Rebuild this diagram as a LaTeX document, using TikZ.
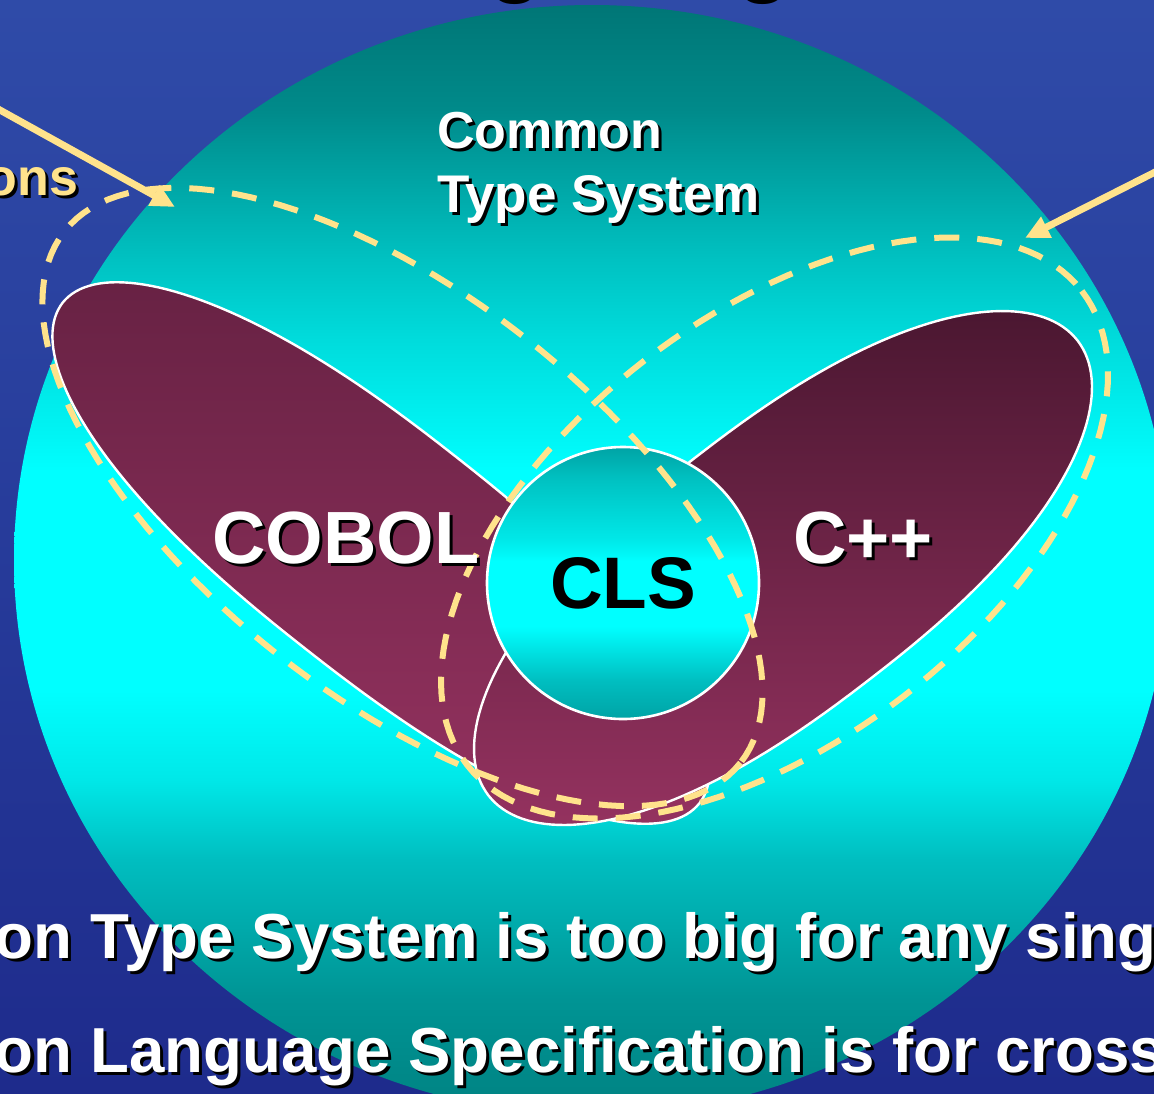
\documentclass[tikz,border=0pt]{standalone}
\usepackage{fontspec}
\setmainfont{Liberation Sans}
\usetikzlibrary{arrows.meta}

% slide background
\definecolor{bgTop}{HTML}{2F4BA8}
\definecolor{bgBot}{HTML}{1E2B8C}
% common type system ball, bottom to top
\definecolor{cts0}{HTML}{008282}
\definecolor{cts1}{HTML}{009494}
\definecolor{cts2}{HTML}{00BEC0}
\definecolor{cts3}{HTML}{00E8E8}
\definecolor{cts4}{HTML}{00FFFF}
\definecolor{cts6}{HTML}{00F6F6}
\definecolor{cts7}{HTML}{00DCDC}
\definecolor{cts8}{HTML}{00C2C2}
\definecolor{cts9}{HTML}{008A8A}
\definecolor{cts10}{HTML}{007676}
% language petals
\definecolor{cobolTop}{HTML}{682244}
\definecolor{cobolBot}{HTML}{94325F}
\definecolor{cppTop}{HTML}{4B1731}
\definecolor{cppBot}{HTML}{94325F}
% CLS ball
\definecolor{clsEdge}{HTML}{00A3A5}
\definecolor{clsMid}{HTML}{00FFFF}
% pale yellow for scopes and pointers
\definecolor{scopeYellow}{HTML}{FFE38C}

\pgfdeclareverticalshading{ctsshading}{100bp}{%
  color(0bp)=(cts0); color(25bp)=(cts0); color(30.2bp)=(cts1);
  color(36.5bp)=(cts2); color(40.1bp)=(cts3); color(44.1bp)=(cts4);
  color(54bp)=(cts4); color(55.4bp)=(cts6); color(59.9bp)=(cts7);
  color(63.5bp)=(cts8); color(70.3bp)=(cts9); color(75bp)=(cts10);
  color(100bp)=(cts10)}

\pgfdeclareverticalshading{clsshading}{100bp}{%
  color(0bp)=(clsEdge); color(25bp)=(clsEdge); color(32bp)=(cts2);
  color(42bp)=(clsMid); color(54bp)=(clsMid); color(58bp)=(cts3);
  color(69bp)=(cts8); color(75bp)=(clsEdge); color(100bp)=(clsEdge)}

\tikzset{
  lbl/.style={inner sep=0pt, outer sep=0pt, anchor=base west},
  txtshadow/.style={text=black, xshift=1.5pt, yshift=-1.5pt},
  petaledge/.style={draw=white, line width=1.2pt},
  scope/.style={draw=scopeYellow, line width=3pt,
    dash pattern=on 12.5pt off 9pt},
  pointer/.style={draw=scopeYellow, line width=3.5pt,
    -{Triangle[length=12pt,width=11pt]}},
  clsball/.style={circle, minimum size=136pt, inner sep=0pt,
    draw=white, line width=1.3pt, shading=clsshading},
}

% a bold label with a black drop shadow
\newcommand\shadowedlabel[5]{%
  \node[lbl, txtshadow, font=\bfseries\fontsize{#3}{#3}\selectfont] (#1-shadow) at #2 {#5};
  \node[lbl, text=#4, font=\bfseries\fontsize{#3}{#3}\selectfont] (#1) at #2 {#5};
}

% closed tilted ellipse: centre x, centre y, half length, half width,
% and the unit direction (ux, uy) of its long axis
\newcommand\tiltedellipse[6]{%
  plot[domain=0:360, samples=145, variable=\t]
    ({#1+#3*cos(\t)*(#5)-#4*sin(\t)*(#6)}, {#2+#3*cos(\t)*(#6)+#4*sin(\t)*(#5)}) -- cycle}

% the same with blunter, rounder ends (a petal)
\newcommand\petaloutline[6]{%
  plot[domain=0:360, samples=181, variable=\t]
    ({#1+#3*cos(\t)*pow(abs(cos(\t))+0.0001,-0.15)*(#5)-#4*sin(\t)*(#6)},
     {#2+#3*cos(\t)*pow(abs(cos(\t))+0.0001,-0.15)*(#6)+#4*sin(\t)*(#5)}) -- cycle}

\begin{document}
\begin{tikzpicture}[x=0.5pt, y=-0.5pt]
\useasboundingbox (0,0) rectangle (1154,1093);
\clip (0,0) rectangle (1154,1093);

% background
\fill[top color=bgTop, bottom color=bgBot] (0,0) rectangle (1154,1093);

% title descenders above the frame
\node[lbl, text=black, font=\bfseries\fontsize{45}{45}\selectfont] (title-g1) at (488,-15) {g};
\node[lbl, text=black, font=\bfseries\fontsize{45}{45}\selectfont] (title-g2) at (736,-15) {g};

% Common Type System
\path[shading=ctsshading] (592,560) ellipse [x radius=578, y radius=555];

% COBOL petal
\path[petaledge, top color=cobolTop, bottom color=cobolBot]
  \petaloutline{381}{553}{405}{122}{0.786}{0.618};

% C++ petal
\path[petaledge, top color=cppTop, bottom color=cppBot]
  \petaloutline{783}{568}{372}{141}{0.792}{-0.611};

% CLS
\node[clsball, font=\bfseries\fontsize{36.5}{36.5}\selectfont] (cls) at (623,583) {CLS};

% scope of each language
\draw[scope] \tiltedellipse{402.5}{497}{430}{201}{0.786}{0.618};
\draw[scope] \tiltedellipse{774.5}{528}{388}{212}{0.792}{-0.611};

% labels
\shadowedlabel{common}{(437,148)}{26}{white}{Common}
\shadowedlabel{typesystem}{(437,212)}{26.5}{white}{Type System}
\shadowedlabel{cobol}{(212,563)}{37}{white}{COBOL}
\shadowedlabel{cpp}{(793,563)}{37}{white}{C++}
\shadowedlabel{ons}{(-14,195)}{26}{scopeYellow}{ons}
\shadowedlabel{line-one}{(-5,958)}{31.8}{white}{on Type System is too big for any sing}
\shadowedlabel{line-two}{(-5,1072)}{31.8}{white}{on Language Specification is for cross}

% pointers onto the scopes
\coordinate (left-lead) at (-20,99);
\coordinate (left-target) at (175,207);
\coordinate (right-lead) at (1175,162);
\coordinate (right-target) at (1025,238);
\draw[pointer] (left-lead) -- (left-target);
\draw[pointer] (right-lead) -- (right-target);
\end{tikzpicture}
\end{document}
